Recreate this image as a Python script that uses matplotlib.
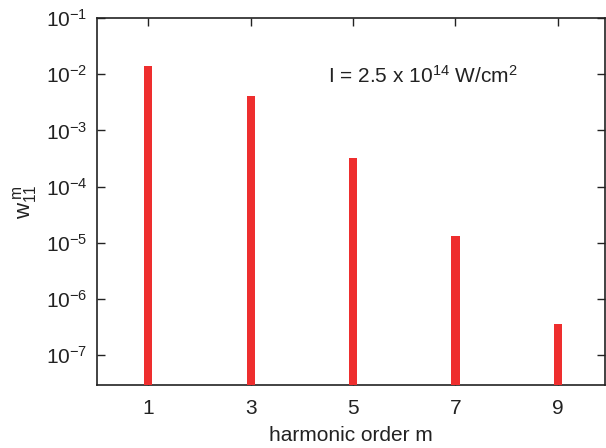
import matplotlib
matplotlib.use('Agg')
import matplotlib.pyplot as plt

plt.rcParams['font.family'] = ['Liberation Sans', 'DejaVu Sans']
plt.rcParams['mathtext.fontset'] = 'custom'
plt.rcParams['mathtext.rm'] = 'Liberation Sans'
plt.rcParams['mathtext.it'] = 'Liberation Sans'
plt.rcParams['mathtext.default'] = 'regular'

orders = [1, 3, 5, 7, 9]
w11 = [1.4e-2, 4.1e-3, 3.3e-4, 1.34e-5, 3.3e-7]
xticks = [1, 3, 5, 7, 9]
yticks = [1e-7, 1e-6, 1e-5, 1e-4, 1e-3, 1e-2, 1e-1]
ylabels = [r'$10^{-7}$', r'$10^{-6}$', r'$10^{-5}$', r'$10^{-4}$',
           r'$10^{-3}$', r'$10^{-2}$', r'$10^{-1}$']

fig = plt.figure(figsize=(6.06, 4.48), dpi=100)
ax = fig.add_axes([97/606, 1-384.7/448, 508/606, 366.7/448])

ax.set_yscale('log')
ax.bar(orders, w11, width=0.16, bottom=3e-8, color='#ee2e2e', zorder=3)
ax.set_xlim(0, 9.92)
ax.set_ylim(3e-8, 1e-1)
ax.set_axisbelow(True)

ax.set_xticks(xticks)
ax.set_xticklabels([str(t) for t in xticks])
ax.set_yticks(yticks)
ax.set_yticklabels(ylabels)
ax.minorticks_off()
ax.tick_params(direction='in', length=6, width=1, top=True, right=True,
               labelsize=15, colors='#222222')
ax.tick_params(axis='x', pad=10)
ax.tick_params(axis='y', pad=7)
for s in ax.spines.values():
    s.set_linewidth(1.2)
    s.set_color('#222222')

ax.set_xlabel('harmonic order m', fontsize=15, labelpad=6, color='#222222')
ax.set_ylabel(r'$w_{11}^{\;m}$', fontsize=16, labelpad=5, color='#222222')

ax.text(0.455, 0.822, r'I = 2.5 x 10$^{14}$ W/cm$^2$', transform=ax.transAxes,
        fontsize=15, va='baseline', ha='left', color='#222222')

fig.savefig('out.png', dpi=100)
